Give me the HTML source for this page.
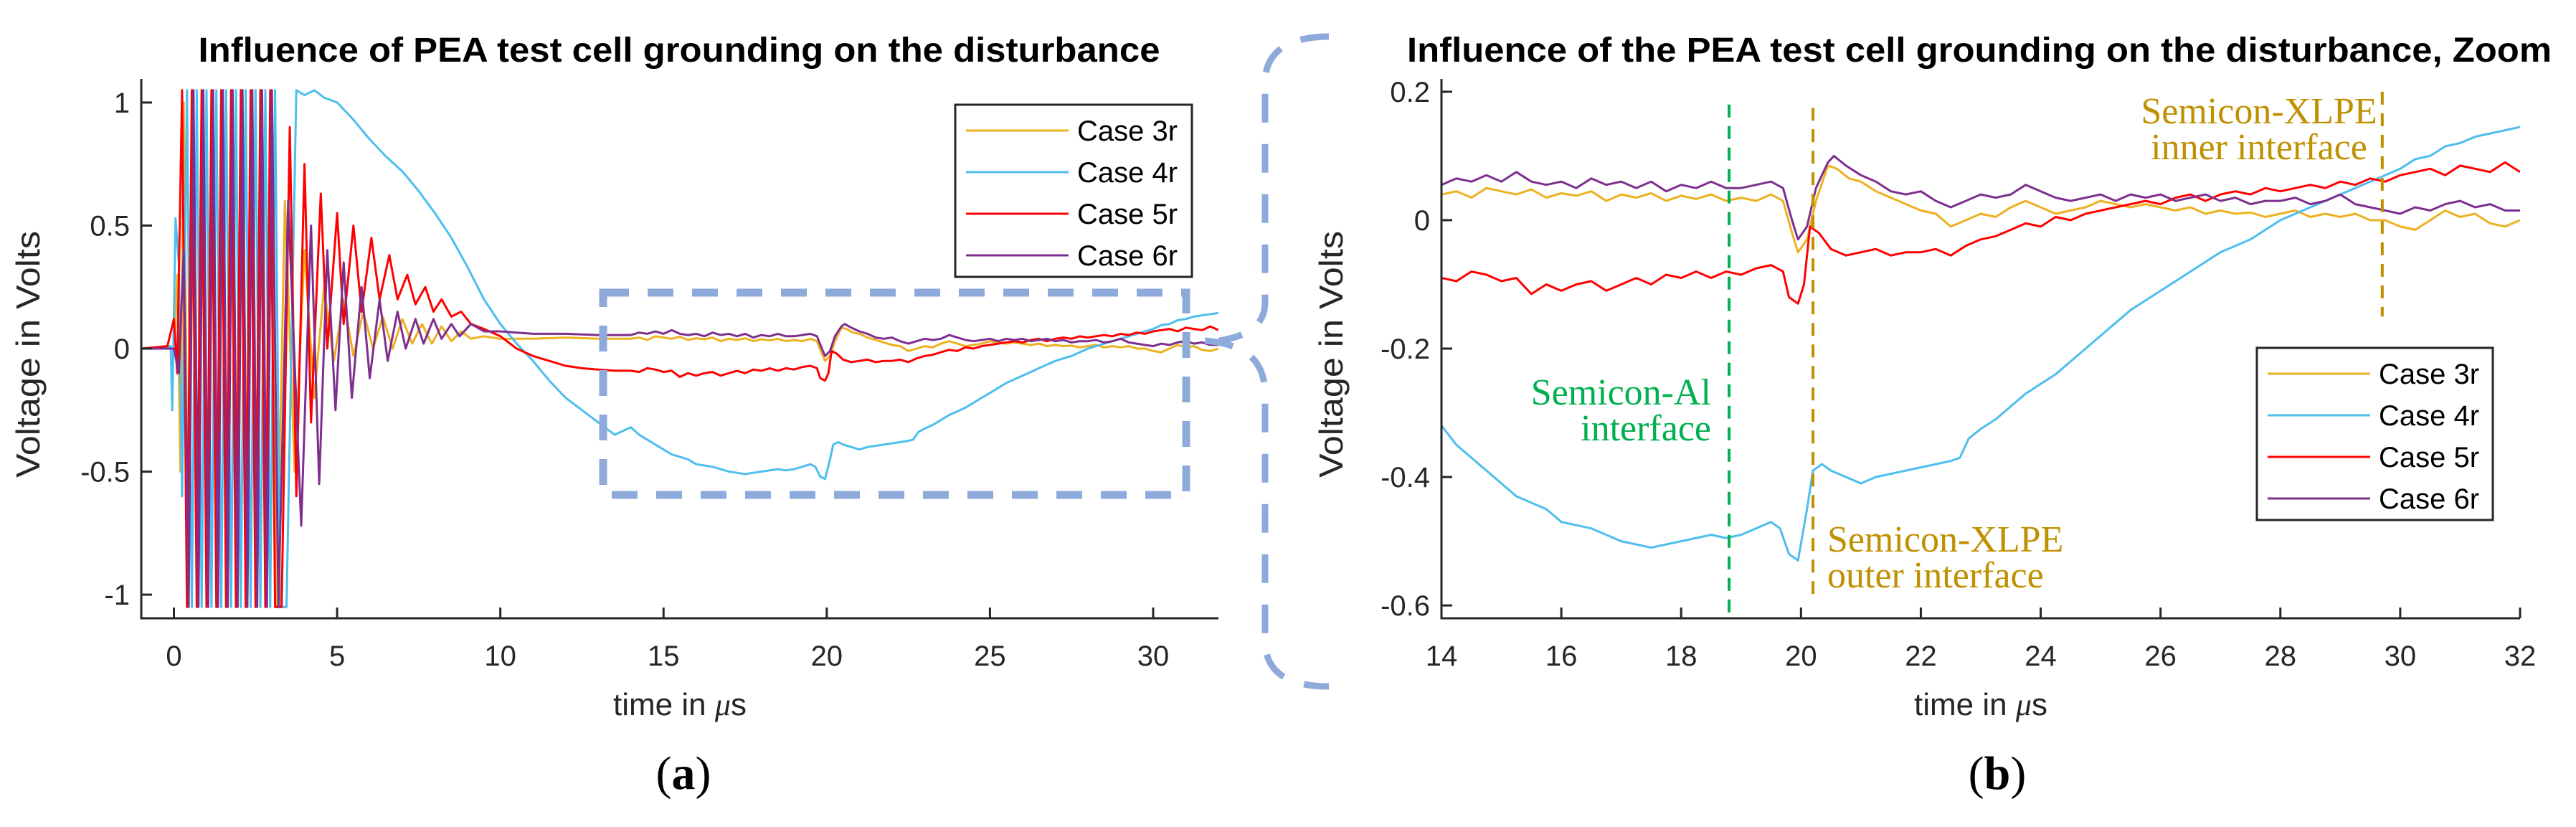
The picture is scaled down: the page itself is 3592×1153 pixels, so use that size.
<!DOCTYPE html>
<html><head><meta charset="utf-8"><style>
html,body{margin:0;padding:0;background:#fff;}
svg text{font-family:"Liberation Sans",Arial,sans-serif;}
</style></head><body>
<svg id="fig" xmlns="http://www.w3.org/2000/svg" width="3592" height="1148" viewBox="0 0 3592 1148">
<defs>
<clipPath id="clipL"><rect x="197" y="100" width="1502" height="762"/></clipPath>
<clipPath id="clipR"><rect x="2010" y="100" width="1504" height="762"/></clipPath>
</defs>
<g id="panelA"></g>
<g id="panelB"></g>
<!-- zoom rectangle & brace -->
<rect x="841" y="408" width="813" height="282" fill="none" stroke="#8eaadb" stroke-width="11" stroke-dasharray="36 26"/>
<path d="M1853 51 C1800 51 1764 70 1764 115 L1764 421 C1764 450 1745 468 1700 475" fill="none" stroke="#8eaadb" stroke-width="9" stroke-dasharray="40 30"/>
<path d="M1680 475 C1740 480 1764 505 1764 550 L1764 893 C1764 940 1800 957 1853 957" fill="none" stroke="#8eaadb" stroke-width="9" stroke-dasharray="40 30"/>
<text x="953" y="1100" text-anchor="middle" font-size="66" style="font-family:'Liberation Serif',serif">(<tspan font-weight="bold">a</tspan>)</text>
<text x="2785" y="1100" text-anchor="middle" font-size="66" style="font-family:'Liberation Serif',serif">(<tspan font-weight="bold">b</tspan>)</text>
</svg>
<script>
// ---- data ----
const seriesNames = ['Case 3r','Case 4r','Case 5r','Case 6r'];
const seriesColors = ['#EDB120','#4DBEEE','#FF0000','#7E2F8E'];

const t3 = [-1,0,0.1,0.2,0.3,0.45,0.6,0.75,0.9,1.05,1.2,1.35,1.5,1.65,1.8,1.95,2.1,2.25,2.4,2.55,2.7,2.85,3.0,3.15,3.4,3.7,4.0,4.3,4.6,4.9,5.2,5.5,5.8,6.1,6.4,6.7,7.0,7.3,7.6,7.9,8.2,8.5,8.8,9.1,9.5,10,11,12,13,
14,14.25,14.5,14.75,15,15.25,15.5,15.75,16,16.25,16.5,16.75,17,17.25,17.5,17.75,18,18.25,18.5,18.75,19,19.25,19.5,19.7,19.85,19.95,20.1,20.25,20.45,20.6,20.8,21,21.25,21.5,21.75,22,22.25,22.5,22.75,23,23.25,23.5,23.75,24,24.25,24.5,24.75,25,25.25,25.5,25.75,26,26.25,26.5,26.75,27,27.25,27.5,27.75,28,28.25,28.5,28.75,29,29.25,29.5,29.75,30,30.25,30.5,30.75,31,31.25,31.5,31.75,32];
const v3 = [0,0,0.3,-0.5,1.0,-1.05,0.95,-1.05,1.05,-1.05,1.05,-1.05,1.05,-1.05,1.05,-1.05,1.05,-1.05,1.05,-1.05,1.05,-1.05,1.05,-1.05,0.6,-0.5,0.4,-0.2,0.25,-0.05,0.2,-0.03,0.15,0,0.13,0,0.12,0.02,0.1,0.02,0.09,0.03,0.07,0.04,0.05,0.04,0.04,0.045,0.04,
.04,.045,.035,.05,.045,.04,.048,.035,.042,.038,.045,.03,.04,.035,.042,.03,.038,.033,.04,.03,.035,.03,.04,.03,-0.02,-0.05,-0.03,0.03,0.085,0.08,0.065,0.06,0.045,0.035,0.025,0.015,0.01,-0.01,0,0.01,0.005,0.02,0.03,0.02,0.01,0.015,0.02,0.03,0.025,0.02,0.025,0.02,0.015,0.02,0.01,0.015,0.01,0.012,0.005,0.01,0.015,0.005,0.01,0.005,0.01,0,0,-0.01,-0.015,0,0.015,0.005,0.01,-0.005,-0.01,0];

const t4 = [-1,-0.1,-0.05,0.05,0.15,0.25,0.4,0.55,0.7,0.85,1.0,1.15,1.3,1.45,1.6,1.75,1.9,2.05,2.2,2.35,2.5,2.65,2.8,2.95,3.1,3.25,3.45,3.75,4.0,4.3,4.6,5,5.5,6,6.5,7,7.5,8,8.5,9,9.5,10,10.5,11,11.5,12,12.5,13,13.5,
14,14.25,14.5,14.75,15,15.25,15.5,15.75,16,16.25,16.5,16.75,17,17.25,17.5,17.75,18,18.25,18.5,18.75,19,19.25,19.5,19.65,19.8,19.95,20.1,20.2,20.35,20.5,20.75,21,21.25,21.5,21.75,22,22.25,22.5,22.65,22.8,23,23.25,23.5,23.75,24,24.25,24.5,24.75,25,25.25,25.5,25.75,26,26.25,26.5,26.75,27,27.25,27.5,27.75,28,28.25,28.5,28.75,29,29.25,29.5,29.75,30,30.25,30.5,30.75,31,31.25,31.5,31.75,32];
const v4 = [0,0.01,-0.25,0.53,0.35,-0.6,1.05,-1.05,1.05,-1.05,1.05,-1.05,1.05,-1.05,1.05,-1.05,1.05,-1.05,1.05,-1.05,1.05,-1.05,1.05,-1.05,1.05,-1.05,-1.05,1.05,1.03,1.05,1.02,1.0,0.93,0.85,0.78,0.72,0.64,0.55,0.45,0.33,0.2,0.1,0.02,-0.05,-0.13,-0.2,-0.25,-0.3,-0.35,
-.32,-.35,-.37,-.39,-.41,-.43,-.44,-.45,-.47,-.475,-.48,-.49,-.5,-.505,-.51,-.505,-.5,-.495,-.49,-.495,-.49,-.48,-.47,-.48,-.52,-.53,-.45,-.39,-.38,-.39,-.4,-.41,-.4,-.395,-.39,-.385,-.38,-.375,-.37,-.34,-.325,-.31,-.29,-.27,-.255,-.24,-.22,-.2,-.18,-.16,-.14,-.125,-.11,-.095,-.08,-.065,-.05,-.04,-.03,-.015,0,0.01,0.02,0.03,0.04,0.05,0.06,0.07,0.08,0.095,0.1,0.115,0.12,0.13,0.135,0.14,0.145];

const t5 = [-1,-0.2,0,0.1,0.25,0.4,0.55,0.7,0.85,1.0,1.15,1.3,1.45,1.6,1.75,1.9,2.05,2.2,2.35,2.5,2.65,2.8,2.95,3.1,3.3,3.55,3.75,4.0,4.2,4.5,4.7,5.0,5.2,5.5,5.75,6.05,6.3,6.6,6.85,7.15,7.4,7.7,7.95,8.2,8.5,8.8,9.1,9.5,10,10.5,11,11.5,12,12.5,13,13.5,
14,14.25,14.5,14.75,15,15.25,15.5,15.75,16,16.25,16.5,16.75,17,17.25,17.5,17.75,18,18.25,18.5,18.75,19,19.25,19.5,19.7,19.8,19.95,20.05,20.15,20.3,20.5,20.75,21,21.25,21.5,21.75,22,22.25,22.5,22.75,23,23.25,23.5,23.75,24,24.25,24.5,24.75,25,25.25,25.5,25.75,26,26.25,26.5,26.75,27,27.25,27.5,27.75,28,28.25,28.5,28.75,29,29.25,29.5,29.75,30,30.25,30.5,30.75,31,31.25,31.5,31.75,32];
const v5 = [0,0.01,0.12,-0.1,1.05,-1.05,1.05,-1.05,1.05,-1.05,1.05,-1.05,1.05,-1.05,1.05,-1.05,1.05,-1.05,1.05,-1.05,1.05,-1.05,1.05,-1.05,-1.05,0.9,-0.6,0.75,-0.3,0.63,0,0.55,0.1,0.5,0.15,0.45,0.2,0.38,0.2,0.3,0.18,0.25,0.15,0.2,0.13,0.15,0.1,0.08,0.05,0,-0.03,-0.05,-0.07,-0.08,-0.085,-0.09,
-.09,-.095,-.08,-.085,-.095,-.09,-.115,-.1,-.11,-.1,-.095,-.11,-.1,-.09,-.1,-.085,-.09,-.08,-.09,-.08,-.085,-.075,-.07,-.08,-0.12,-0.13,-0.1,-0.01,-0.02,-0.045,-0.055,-0.05,-0.045,-0.055,-0.05,-0.05,-0.045,-0.055,-0.04,-0.03,-0.025,-0.015,-0.005,-0.01,0.005,0,0.01,0.015,0.02,0.025,0.03,0.025,0.035,0.04,0.03,0.04,0.045,0.04,0.05,0.045,0.05,0.055,0.05,0.06,0.055,0.065,0.06,0.07,0.075,0.08,0.07,0.085,0.08,0.075,0.09,0.075];

const t6 = [-1,0,0.15,0.3,0.45,0.6,0.75,0.9,1.05,1.2,1.35,1.5,1.65,1.8,1.95,2.1,2.25,2.4,2.55,2.7,2.85,3.0,3.2,3.5,3.9,4.2,4.45,4.7,4.95,5.2,5.45,5.75,6.0,6.3,6.55,6.85,7.1,7.4,7.65,7.95,8.2,8.5,8.75,9.1,9.5,10,11,12,13,
14,14.25,14.5,14.75,15,15.25,15.5,15.75,16,16.25,16.5,16.75,17,17.25,17.5,17.75,18,18.25,18.5,18.75,19,19.25,19.5,19.7,19.85,19.95,20.1,20.25,20.45,20.55,20.75,21,21.25,21.5,21.75,22,22.25,22.5,22.75,23,23.25,23.5,23.75,24,24.25,24.5,24.75,25,25.25,25.5,25.75,26,26.25,26.5,26.75,27,27.25,27.5,27.75,28,28.25,28.5,28.75,29,29.25,29.5,29.75,30,30.25,30.5,30.75,31,31.25,31.5,31.75,32];
const v6 = [0,0,-0.1,0.4,-1.05,1.05,-1.05,1.05,-1.05,1.05,-1.05,1.05,-1.05,1.05,-1.05,1.05,-1.05,1.05,-1.05,1.05,-1.05,1.05,-1.05,0.6,-0.72,0.5,-0.55,0.4,-0.25,0.35,-0.2,0.25,-0.12,0.2,-0.05,0.15,0,0.12,0.02,0.12,0.04,0.1,0.05,0.1,0.07,0.07,0.06,0.06,0.055,
.055,.065,.06,.07,.06,.075,.06,.055,.06,.05,.065,.055,.06,.05,.06,.045,.055,.05,.06,.05,.05,.055,.06,.05,0,-0.03,-0.01,0.05,0.09,0.1,0.085,0.07,0.06,0.045,0.04,0.045,0.03,0.02,0.03,0.04,0.035,0.04,0.055,0.045,0.035,0.03,0.035,0.04,0.03,0.04,0.035,0.04,0.03,0.035,0.04,0.03,0.035,0.025,0.03,0.03,0.035,0.025,0.03,0.04,0.025,0.02,0.015,0.01,0.02,0.015,0.025,0.03,0.02,0.025,0.015,0.015];

const xTicksA = [0,5,10,15,20,25,30];
const yTicksA = [-1,-0.5,0,0.5,1];
const yTickLabelsA = ['-1','-0.5','0','0.5','1'];
const xTicksB = [14,16,18,20,22,24,26,28,30,32];
const yTicksB = [-0.6,-0.4,-0.2,0,0.2];
const yTickLabelsB = ['-0.6','-0.4','-0.2','0','0.2'];
const interfaceTimes = [18.8,20.2,29.7];
const interfaceTop = [0.18,0.175,0.2];
const interfaceBottom = [-0.615,-0.595,-0.15];

const T = [t3,t4,t5,t6];
const V = [v3,v4,v5,v6];

// ---- axes functions ----
const NS = 'http://www.w3.org/2000/svg';
const A = {x0:197,x1:1699,y0:110,y1:862,tmin:-1,tmax:32,vmin:-1.096,vmax:1.096};
const B = {x0:2010,x1:3514,y0:110,y1:862,tmin:14,tmax:32,vmin:-0.62,vmax:0.22};
function sx(ax,t){return ax.x0+(t-ax.tmin)/(ax.tmax-ax.tmin)*(ax.x1-ax.x0);}
function sy(ax,v){return ax.y1-(v-ax.vmin)/(ax.vmax-ax.vmin)*(ax.y1-ax.y0);}
function mk(tag,attrs,parent){const e=document.createElementNS(NS,tag);for(const k in attrs)e.setAttribute(k,attrs[k]);parent.appendChild(e);return e;}

function drawPanel(g,ax,clip,xTicks,yTicks,yLabels,title,titleX,titleLen,legendBox,ylabX){
  const lines = mk('g',{'clip-path':'url(#'+clip+')'},g);
  
  
  for(let s=0;s<4;s++){
    let d='';
    for(let i=0;i<T[s].length;i++){
      if(T[s][i]<ax.tmin-0.5||T[s][i]>ax.tmax+0.5)continue;
      d+=(d?'L':'M')+sx(ax,T[s][i]).toFixed(1)+' '+sy(ax,V[s][i]).toFixed(1);
    }
    const p=mk('path',{d:d,fill:'none',stroke:seriesColors[s],'stroke-width':3,'stroke-linejoin':'round'},lines);
    
    
  }
  const axg=mk('g',{stroke:'#262626','stroke-width':3,fill:'none'},g);
  
  
  mk('path',{d:'M'+ax.x0+' '+ax.y0+'V'+ax.y1+'H'+ax.x1},axg);
  xTicks.forEach(t=>{
    const x=sx(ax,t);
    mk('path',{d:'M'+x+' '+ax.y1+'V'+(ax.y1-15)},axg);
    const tx=mk('text',{x:x,y:928,'text-anchor':'middle','font-size':40,fill:'#262626'},g);
    tx.textContent=String(t);
    
    
  });
  yTicks.forEach((v,i)=>{
    const y=sy(ax,v);
    mk('path',{d:'M'+ax.x0+' '+y+'H'+(ax.x0+15)},axg);
    const tx=mk('text',{x:ax.x0-16,y:y+14,'text-anchor':'end','font-size':40,fill:'#262626'},g);
    tx.textContent=yLabels[i];
    
    
  });
  const tt=mk('text',{x:titleX,y:86,'text-anchor':'middle','font-size':48,'font-weight':'bold',fill:'#000',textLength:titleLen,lengthAdjust:'spacingAndGlyphs'},g);
  tt.textContent=title;
  
  
  const cx=(ax.x0+ax.x1)/2;
  const xl=mk('text',{x:cx,y:997,'text-anchor':'middle','font-size':44,fill:'#262626'},g);
  xl.innerHTML='time in <tspan style="font-family:\'Liberation Serif\',serif" font-style="italic">μ</tspan>s';
  
  
  const yl=mk('text',{x:0,y:0,'text-anchor':'middle','font-size':46,fill:'#262626',transform:'translate('+ylabX+' 494) rotate(-90)',textLength:344,lengthAdjust:'spacingAndGlyphs'},g);
  yl.textContent='Voltage in Volts';
  
  
  // legend
  const lg=mk('g',{},g);
  
  
  mk('rect',{x:legendBox.x,y:legendBox.y,width:legendBox.w,height:legendBox.h,fill:'#fff',stroke:'#262626','stroke-width':3},lg);
  for(let s=0;s<4;s++){
    const y=legendBox.y+36+s*legendBox.step;
    const e=mk('g',{},lg);
    
    
    mk('path',{d:'M'+(legendBox.x+15)+' '+y+'H'+(legendBox.x+158),stroke:seriesColors[s],'stroke-width':3},e);
    const tx=mk('text',{x:legendBox.x+170,y:y+14,'font-size':40,fill:'#000'},e);
    tx.textContent=seriesNames[s];
  }
}

drawPanel(document.getElementById('panelA'),A,'clipL',xTicksA,yTicksA,yTickLabelsA,
  'Influence of PEA test cell grounding on the disturbance',947,1341,{x:1332,y:146,w:330,h:240,step:58},55);
drawPanel(document.getElementById('panelB'),B,'clipR',xTicksB,yTicksB,yTickLabelsB,
  'Influence of the PEA test cell grounding on the disturbance, Zoom',2760,1596,{x:3147,y:485,w:329,h:240,step:58},1872);

// interface annotations on panel b
const gB=document.getElementById('panelB');
const annColors=['#00B050','#BF9000','#BF9000'];
for(let i=0;i<interfaceTimes.length;i++){
  const x=sx(B,interfaceTimes[i]);
  const l=mk('path',{d:'M'+x+' '+sy(B,interfaceTop[i])+'V'+sy(B,interfaceBottom[i]),stroke:annColors[i],'stroke-width':4,'stroke-dasharray':'18 12',fill:'none'},gB);
  
  
}
function ann(lines,x,y,anchor,color,name){
  const t=mk('text',{x:x,y:y,'text-anchor':anchor,'font-size':52,fill:color,style:"font-family:'Liberation Serif',serif"},gB);
  
  
  lines.forEach((s,i)=>{const ts=mk('tspan',{x:x,dy:i?50:0},t);ts.textContent=s;});
}
ann(['Semicon-Al','interface'],2386,564,'end','#00B050','semicon-al-label');
ann(['Semicon-XLPE','outer interface'],2548,769,'start','#BF9000','semicon-xlpe-outer-label');
ann(['Semicon-XLPE','inner interface'],3150,172,'middle','#BF9000','semicon-xlpe-inner-label');
</script>
</body></html>
